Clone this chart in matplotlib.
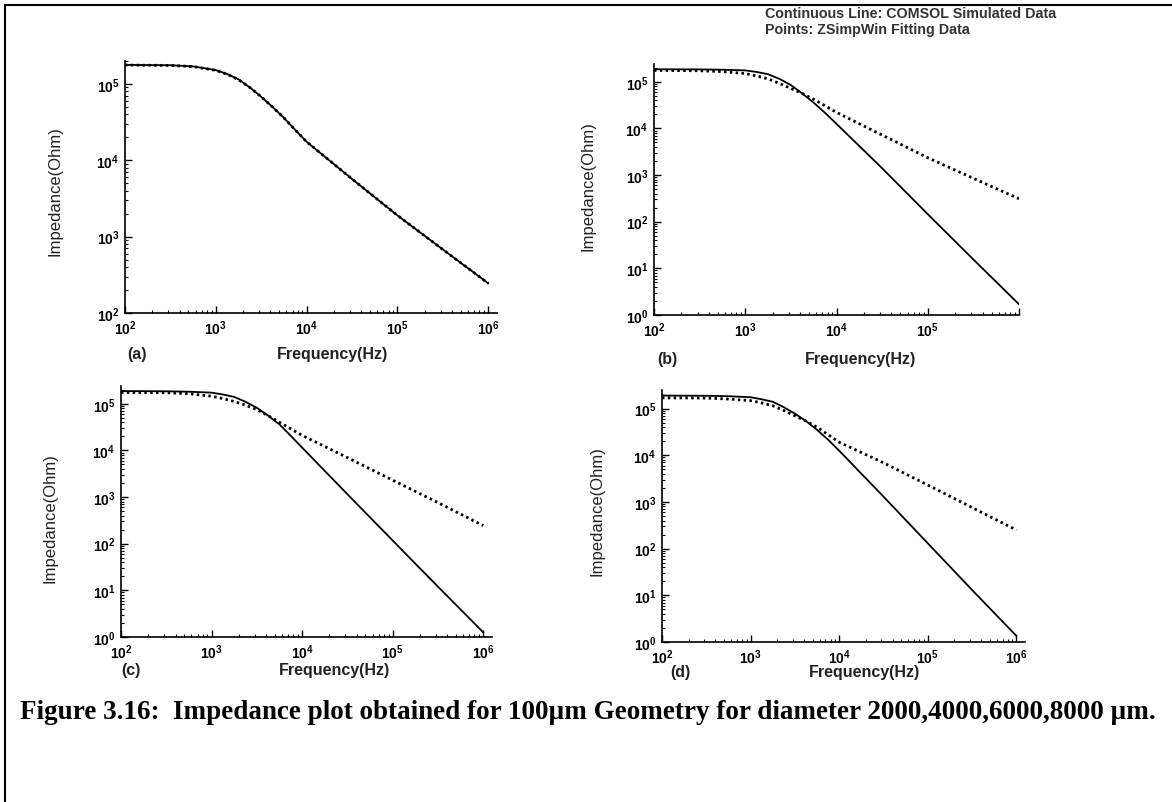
import numpy as np
import matplotlib
matplotlib.use('Agg')
import matplotlib.pyplot as plt
from matplotlib.lines import Line2D
from matplotlib.ticker import LogLocator, NullFormatter

W, H = 1172, 803

# frequency points (Hz)
freq = [100, 316, 562, 1000, 1334, 1778, 2371, 3162, 4217, 5623, 7499, 10000,
        31623, 100000, 316228, 1000000]

# impedance magnitude (Ohm): COMSOL simulation (solid) and ZSimpWin fit (points)
sim_a = [1.78e5, 1.76e5, 1.70e5, 1.52e5, 1.35e5, 1.15e5, 9.0e4, 6.8e4, 5.0e4, 3.6e4,
         2.5e4, 1.75e4, 5.7e3, 1.9e3, 6.8e2, 2.45e2]
fit_a = [1.77e5, 1.75e5, 1.69e5, 1.51e5, 1.34e5, 1.14e5, 9.0e4, 6.8e4, 5.0e4, 3.6e4,
         2.5e4, 1.75e4, 5.7e3, 1.9e3, 6.8e2, 2.45e2]

sim_b = [1.85e5, 1.84e5, 1.81e5, 1.75e5, 1.62e5, 1.45e5, 1.15e5, 8.5e4, 5.6e4, 3.55e4,
         2.15e4, 1.25e4, 1.4e3, 1.45e2, 15.5, 1.7]
fit_b = [1.75e5, 1.72e5, 1.65e5, 1.50e5, 1.33e5, 1.15e5, 9.2e4, 7.2e4, 5.6e4, 4.2e4,
         3.05e4, 2.2e4, 7.2e3, 2.35e3, 8.5e2, 3.1e2]

sim_c = [1.87e5, 1.85e5, 1.81e5, 1.73e5, 1.58e5, 1.40e5, 1.10e5, 8.2e4, 5.55e4, 3.6e4,
         2.05e4, 1.15e4, 1.15e3, 1.17e2, 12, 1.26]
fit_c = [1.75e5, 1.72e5, 1.64e5, 1.45e5, 1.29e5, 1.12e5, 9.3e4, 7.5e4, 5.55e4, 4.0e4,
         2.9e4, 2.1e4, 7.0e3, 2.3e3, 7.6e2, 2.45e2]

sim_d = [1.90e5, 1.88e5, 1.84e5, 1.75e5, 1.58e5, 1.40e5, 1.07e5, 7.8e4, 5.4e4, 3.5e4,
         2.15e4, 1.25e4, 1.3e3, 1.3e2, 13, 1.35]
fit_d = [1.70e5, 1.68e5, 1.60e5, 1.48e5, 1.32e5, 1.15e5, 9.1e4, 7.0e4, 5.4e4, 4.0e4,
         2.75e4, 1.9e4, 6.9e3, 2.3e3, 7.6e2, 2.5e2]

panel_tags = ['(a)', '(b)', '(c)', '(d)']
x_title = 'Frequency(Hz)'
y_title = 'Impedance(Ohm)'
note_lines = ['Continuous Line: COMSOL Simulated Data', 'Points: ZSimpWin Fitting Data']
caption = 'Figure 3.16:  Impedance plot obtained for 100\u00b5m Geometry for diameter 2000,4000,6000,8000 \u00b5m.'

SANS = ['Liberation Sans', 'DejaVu Sans']
SERIF = ['Liberation Serif', 'DejaVu Serif']

plt.rcParams['font.family'] = SANS
plt.rcParams['mathtext.fontset'] = 'custom'
plt.rcParams['mathtext.rm'] = 'Liberation Sans:bold'


def fx(x):
    return x / W


def fy(y):
    return 1 - y / H


def add_panel(fig, box, sim, fit, xlim, ylim, tag, tag_xy, xt_xy, yt_xy):
    """ box is (left, top, right, bottom) in pixels """
    l, t, r, b = box
    ax = fig.add_axes([fx(l), fy(b), (r - l) / W, (b - t) / H])
    ax.set_xscale('log')
    ax.set_yscale('log')
    ax.plot(freq, sim, '-', color='black', lw=1.3, solid_joinstyle='round')
    ax.plot(freq, fit, color='black', lw=2.0, linestyle=(0, (0.9, 1.2)),
            dash_capstyle='butt')
    ax.set_xlim(*xlim)
    ax.set_ylim(*ylim)
    for s in ['top', 'right']:
        ax.spines[s].set_visible(False)
    for s in ['left', 'bottom']:
        ax.spines[s].set_linewidth(1.2)
    ax.xaxis.set_major_locator(LogLocator(base=10, numticks=12))
    ax.xaxis.set_minor_locator(LogLocator(base=10, subs=np.arange(2, 10), numticks=12))
    ax.yaxis.set_major_locator(LogLocator(base=10, numticks=12))
    ax.yaxis.set_minor_locator(LogLocator(base=10, subs=np.arange(2, 10), numticks=12))
    ax.xaxis.set_minor_formatter(NullFormatter())
    ax.yaxis.set_minor_formatter(NullFormatter())
    ax.tick_params(which='major', direction='in', length=5, width=1.0,
                   labelsize=10, pad=4)
    ax.tick_params(which='minor', direction='in', length=2.5, width=0.8)
    for lab in ax.get_xticklabels() + ax.get_yticklabels():
        lab.set_fontweight('bold')
    ax.patch.set_alpha(0)

    fig.text(fx(tag_xy[0]), fy(tag_xy[1]), tag, fontsize=11.5, fontweight='bold',
             ha='center', va='center', color='#222222')
    fig.text(fx(xt_xy[0]), fy(xt_xy[1]), x_title, fontsize=11.5, fontweight='bold',
             ha='center', va='center', color='#222222')
    fig.text(fx(yt_xy[0]), fy(yt_xy[1]), y_title, fontsize=12, rotation=90,
             ha='center', va='center', color='#222222')
    return ax


fig = plt.figure(figsize=(W / 100, H / 100), dpi=100)

add_panel(fig, (125, 62, 497, 314), sim_a, fit_a, (1e2, 1.25e6), (1e2, 2e5),
          panel_tags[0], (137, 355), (333, 355), (55, 191))
ax_b = add_panel(fig, (654, 65, 1019, 316), sim_b, fit_b, (1e2, 1e6), (1, 2.4e5),
                 panel_tags[1], (667, 360), (860, 360), (588, 186))
add_panel(fig, (121, 387, 492, 638), sim_c, fit_c, (1e2, 1.25e6), (1, 2.4e5),
          panel_tags[2], (131, 671), (335, 671), (50, 518))
add_panel(fig, (662, 391, 1025, 643), sim_d, fit_d, (1e2, 1.25e6), (1, 2.5e5),
          panel_tags[3], (680, 673), (865, 673), (597, 511))

# panel (b) has no label at the last decade
fig.canvas.draw()
for lab in ax_b.get_xticklabels():
    if lab.get_position()[0] >= 1e6:
        lab.set_visible(False)

fig.text(fx(765), fy(14), note_lines[0], fontsize=10.3, fontweight='bold',
         color='#333333', ha='left', va='center')
fig.text(fx(765), fy(30), note_lines[1], fontsize=10.3, fontweight='bold',
         color='#333333', ha='left', va='center')

fig.text(fx(20), fy(713), caption, family=SERIF, fontsize=19.5, fontweight='bold',
         ha='left', va='center', color='black')

# page frame lines
fig.add_artist(Line2D([fx(5), fx(5)], [fy(6), 0], color='black', lw=1.5))
fig.add_artist(Line2D([fx(5), 1], [fy(6), fy(6)], color='black', lw=1.5))

fig.savefig('out.png', dpi=100)
